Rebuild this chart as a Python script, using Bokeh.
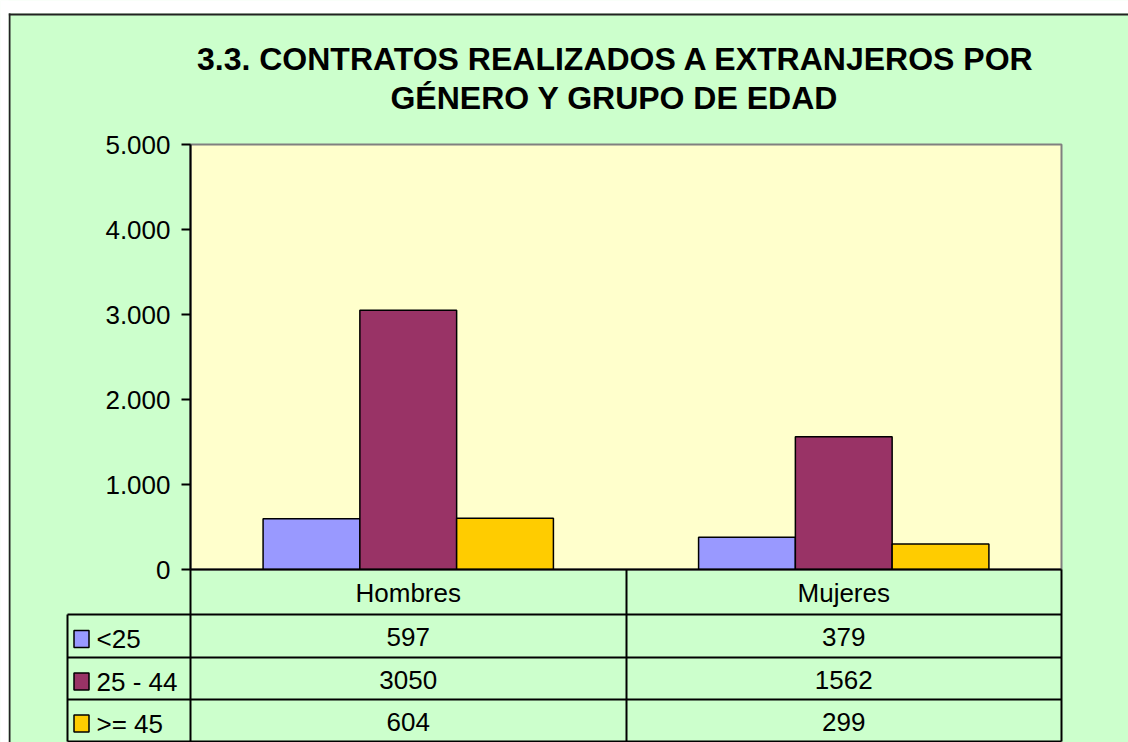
from bokeh.plotting import figure
from bokeh.models import Range1d, FixedTicker, CustomJSTickFormatter
from bokeh.core.properties import value
from bokeh.embed import file_html
from bokeh.resources import INLINE

# ---------------- data ----------------
title_lines = ["3.3. CONTRATOS REALIZADOS A EXTRANJEROS POR", "GÉNERO Y GRUPO DE EDAD"]
categories = ["Hombres", "Mujeres"]
series = ["<25", "25 - 44", ">= 45"]
values_lt25 = [597, 379]
values_25_44 = [3050, 1562]
values_ge45 = [604, 299]
y_ticks = [0, 1000, 2000, 3000, 4000, 5000]

# ---------------- style / layout ----------------
colors = ["#9999FF", "#993366", "#FFCC00"]
GREEN = "#CCFFCC"
YELLOW = "#FFFFCC"
FONT = "Liberation Sans"
TXT = "26px"
W, H = 1128, 742
OFF = 0                      # figure origin on the page
PL, PR, PT, PB = 190, 1061, 144, 569   # plot area (page px)
YMAX = y_ticks[-1]
PX_PER_U = (PR - PL) / len(categories)
PX_PER_V = (PB - PT) / YMAX


def ux(px):
    return (px - PL) / PX_PER_U


def vy(py):
    return (PB - py) / PX_PER_V


p = figure(width=W, height=H,
           x_range=Range1d(0, len(categories)), y_range=Range1d(0, YMAX),
           x_axis_type=None, output_backend="svg", toolbar_location=None,
           min_border_left=PL - OFF, min_border_right=W - (PR - OFF),
           min_border_top=PT - OFF, min_border_bottom=H - (PB - OFF))
p.background_fill_color = YELLOW
p.border_fill_color = GREEN
p.outline_line_color = "#808080"
p.outline_line_width = 2
p.xgrid.visible = False
p.ygrid.visible = False

ax = p.yaxis[0]
ax.ticker = FixedTicker(ticks=y_ticks)
ax.formatter = CustomJSTickFormatter(code=r"return tick.toString().replace(/\B(?=(\d{3})+(?!\d))/g, '.')")
ax.bounds = (0, YMAX)
ax.axis_line_width = 2
ax.axis_line_color = "black"
ax.major_tick_line_width = 2
ax.major_tick_line_color = "black"
ax.major_tick_out = 9
ax.major_tick_in = 0
ax.minor_tick_out = 0
ax.minor_tick_in = 0
ax.major_label_text_font = FONT
ax.major_label_text_font_size = TXT
ax.major_label_text_color = "black"
ax.major_label_standoff = 11

# ---------------- bars ----------------
all_vals = [values_lt25, values_25_44, values_ge45]
bw = 1 / (len(series) + 1.5)
for i, vals in enumerate(all_vals):
    xs = [c + 0.5 + (i - 1) * bw for c in range(len(categories))]
    p.vbar(x=xs, top=vals, bottom=0, width=bw, fill_color=colors[i],
           line_color="black", line_width=1.5)

# ---------------- data table ----------------
row_edges = [569, 614, 657, 699, 741]
col_edges = [67, 190, 626, 1061]
hx0, hx1, hy0, hy1 = [], [], [], []
for k, r in enumerate(row_edges):
    left = col_edges[1] if k == 0 else col_edges[0]
    hx0.append(ux(left)); hx1.append(ux(col_edges[-1]))
    hy0.append(vy(r)); hy1.append(vy(r))
for k, c in enumerate(col_edges):
    top = row_edges[1] if k == 0 else row_edges[0]
    hx0.append(ux(c)); hx1.append(ux(c))
    hy0.append(vy(top)); hy1.append(vy(row_edges[-1]))
p.segment(x0=hx0, y0=hy0, x1=hx1, y1=hy1, line_color="black", line_width=2, level="overlay")

cat_x = [c + 0.5 for c in range(len(categories))]
p.text(x=cat_x, y=[vy((row_edges[0] + row_edges[1]) / 2 + 1)] * len(categories), text=categories,
       text_font=value(FONT), text_font_size=value(TXT), text_color="black",
       text_align="center", text_baseline="middle", level="overlay")
for i, vals in enumerate(all_vals):
    yc = vy((row_edges[i + 1] + row_edges[i + 2]) / 2 + 1)
    p.text(x=cat_x, y=[yc] * len(vals), text=[str(v) for v in vals],
           text_font=value(FONT), text_font_size=value(TXT), text_color="black",
           text_align="center", text_baseline="middle", level="overlay")
    ys = vy((row_edges[i + 1] + row_edges[i + 2]) / 2 + 3)
    p.rect(x=[ux(81)], y=[ys], width=15, height=17, width_units="screen",
           height_units="screen", fill_color=colors[i], line_color="black",
           line_width=1.5, level="overlay")
    p.text(x=[ux(96)], y=[ys], text=[series[i]],
           text_font=value(FONT), text_font_size=value(TXT), text_color="black",
           text_align="left", text_baseline="middle", level="overlay")

# ---------------- title ----------------
p.text(x=[ux(615.5), ux(614)], y=[vy(58), vy(97)], text=title_lines,
       text_font=value(FONT), text_font_size=value("32px"), text_font_style="bold",
       text_color="black", text_align="center", text_baseline="alphabetic", level="overlay")

# ---------------- outer chart border ----------------
p.quad(left=[ux(OFF)], right=[ux(OFF + W)], bottom=[vy(13)], top=[vy(OFF)],
       fill_color="white", line_color=None, level="overlay")
p.segment(x0=[ux(8), ux(9)], y0=[vy(14), vy(13)], x1=[ux(OFF + W), ux(9)],
          y1=[vy(14), vy(OFF + H)], line_color="#222222", line_width=2, level="overlay")
p.quad(left=[ux(OFF)], right=[ux(8)], bottom=[vy(OFF + H)], top=[vy(OFF)],
       fill_color="white", line_color=None, level="overlay")

open("out.html", "w").write(file_html(p, INLINE))
